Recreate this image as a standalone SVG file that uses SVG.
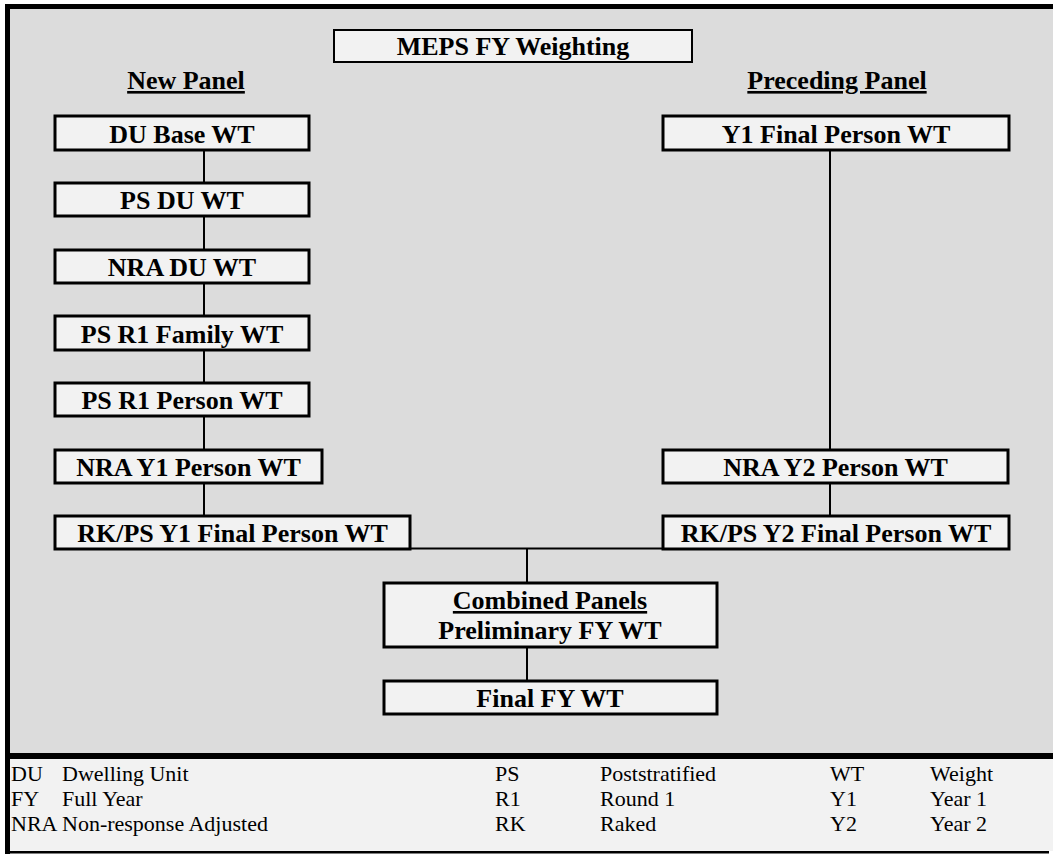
<svg xmlns="http://www.w3.org/2000/svg" width="1053" height="854" viewBox="0 0 1053 854">
<style>
.box{fill:#f2f2f2;stroke:#000;stroke-width:3}
.t{font-family:"Liberation Serif","Times New Roman",serif;font-weight:bold;font-size:26px;fill:#000;text-anchor:middle}
.u{text-decoration:underline}
.lg{font-family:"Liberation Serif","Times New Roman",serif;font-size:22px;fill:#000}
.c{stroke:#000;stroke-width:2;fill:none}
</style>
<rect x="10" y="9" width="1043" height="746" fill="#dcdcdc"/>
<rect x="10" y="758" width="1043" height="93" fill="#f2f2f2"/>
<rect x="5" y="4" width="1048" height="5" fill="#000"/>
<rect x="5" y="4" width="5" height="850" fill="#000"/>
<rect x="5" y="753" width="1048" height="6" fill="#000"/>
<rect x="5" y="851" width="1044" height="2.5" fill="#000"/>
<g id="connectors">
<line class="c" x1="204" y1="150" x2="204" y2="183"/>
<line class="c" x1="204" y1="216" x2="204" y2="250"/>
<line class="c" x1="204" y1="283" x2="204" y2="316"/>
<line class="c" x1="204" y1="350" x2="204" y2="383"/>
<line class="c" x1="204" y1="416" x2="204" y2="450"/>
<line class="c" x1="204" y1="483" x2="204" y2="516"/>
<line class="c" x1="830" y1="150" x2="830" y2="450"/>
<line class="c" x1="830" y1="483" x2="830" y2="516"/>
<line class="c" x1="410" y1="548.5" x2="663" y2="548.5"/>
<line class="c" x1="527" y1="548.5" x2="527" y2="583"/>
<line class="c" x1="527" y1="647" x2="527" y2="681"/>
</g>
<g id="title"><rect x="334" y="30" width="358" height="32" fill="#f2f2f2" stroke="#000" stroke-width="2"/><text class="t" x="513" y="55">MEPS FY Weighting</text></g>
<g id="new-panel"><text class="t u" x="186" y="89">New Panel</text></g>
<g id="preceding-panel"><text class="t u" x="837" y="89">Preceding Panel</text></g>
<g id="du-base"><rect class="box" x="55" y="116" width="254" height="34"/><text class="t" x="182" y="142.5">DU Base WT</text></g>
<g id="ps-du"><rect class="box" x="55" y="183" width="254" height="33"/><text class="t" x="182" y="209">PS DU WT</text></g>
<g id="nra-du"><rect class="box" x="55" y="250" width="254" height="33"/><text class="t" x="182" y="276">NRA DU WT</text></g>
<g id="ps-r1-family"><rect class="box" x="55" y="316" width="254" height="34"/><text class="t" x="182" y="342.5">PS R1 Family WT</text></g>
<g id="ps-r1-person"><rect class="box" x="55" y="383" width="254" height="33"/><text class="t" x="182" y="409">PS R1 Person WT</text></g>
<g id="nra-y1-person"><rect class="box" x="55" y="450" width="267" height="33"/><text class="t" x="188.5" y="476">NRA Y1 Person WT</text></g>
<g id="rkps-y1"><rect class="box" x="55" y="516" width="355" height="33"/><text class="t" x="232.5" y="542">RK/PS Y1 Final Person WT</text></g>
<g id="y1-final"><rect class="box" x="663" y="116" width="346" height="34"/><text class="t" x="836" y="142.5">Y1 Final Person WT</text></g>
<g id="nra-y2-person"><rect class="box" x="663" y="450" width="345" height="33"/><text class="t" x="835.5" y="476">NRA Y2 Person WT</text></g>
<g id="rkps-y2"><rect class="box" x="663" y="516" width="346" height="33"/><text class="t" x="836" y="542">RK/PS Y2 Final Person WT</text></g>
<g id="combined"><rect class="box" x="384" y="583" width="333" height="64"/><text class="t u" x="550" y="609">Combined Panels</text><text class="t" x="550" y="639">Preliminary FY WT</text></g>
<g id="final-fy"><rect class="box" x="384" y="681" width="333" height="33"/><text class="t" x="550" y="707">Final FY WT</text></g>
<g id="legend">
<text class="lg" x="11" y="781">DU</text><text class="lg" x="62" y="781">Dwelling Unit</text>
<text class="lg" x="495" y="781">PS</text><text class="lg" x="600" y="781">Poststratified</text>
<text class="lg" x="830" y="781">WT</text><text class="lg" x="930" y="781">Weight</text>
<text class="lg" x="11" y="806">FY</text><text class="lg" x="62" y="806">Full Year</text>
<text class="lg" x="495" y="806">R1</text><text class="lg" x="600" y="806">Round 1</text>
<text class="lg" x="830" y="806">Y1</text><text class="lg" x="930" y="806">Year 1</text>
<text class="lg" x="11" y="831">NRA</text><text class="lg" x="62" y="831">Non-response Adjusted</text>
<text class="lg" x="495" y="831">RK</text><text class="lg" x="600" y="831">Raked</text>
<text class="lg" x="830" y="831">Y2</text><text class="lg" x="930" y="831">Year 2</text>
</g>
</svg>
